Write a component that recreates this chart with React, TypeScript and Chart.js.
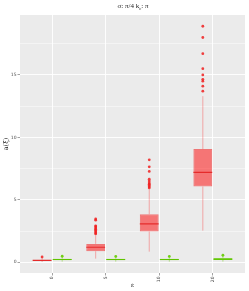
import React, { useEffect, useRef } from "react";
import { Chart, registerables } from "chart.js";
Chart.register(...registerables);

// ε categories
const epsilonLabels = ["0", "5", "10", "20"];
const categoryIndex = [0, 1, 2, 3];

// red series boxplot stats
const redLower = [0.02, 0.29, 0.85, 2.53];
const redQ1 = [0.1, 0.88, 2.46, 6.06];
const redMedian = [0.15, 1.2, 3.07, 7.2];
const redQ3 = [0.2, 1.47, 3.85, 9.06];
const redUpper = [0.33, 2.15, 5.85, 13.3];
const redOutliers = [
  [0.42],
  [2.27, 2.35, 2.45, 2.55, 2.65, 2.75, 2.85, 2.92, 3.37, 3.47],
  [5.95, 6.05, 6.15, 6.25, 6.35, 6.5, 6.65, 7.27, 7.64, 8.2],
  [13.7, 14.1, 14.5, 14.65, 15.0, 15.5, 16.7, 18.0, 18.9],
];

// green series boxplot stats
const greenLower = [0.05, 0.05, 0.05, 0.05];
const greenQ1 = [0.17, 0.17, 0.17, 0.18];
const greenMedian = [0.22, 0.22, 0.22, 0.25];
const greenQ3 = [0.28, 0.28, 0.28, 0.33];
const greenUpper = [0.42, 0.41, 0.41, 0.5];
const greenOutliers = [[0.48], [0.47], [0.47], [0.56]];

const yTicks = [0, 2.5, 5, 7.5, 10, 12.5, 15, 17.5];

const DODGE = 0.1875;
const BAR_PCT = 0.94;

type Style = { fill: string; border: string; median: string; whisker: string; point: string };

function boxDatasets(
  lower: number[], q1: number[], med: number[], q3: number[], upper: number[],
  outliers: number[][], offset: number, s: Style
): any[] {
  const half = DODGE * BAR_PCT;
  const whisk: any[] = [];
  const medLine: any[] = [];
  const pts: any[] = [];
  categoryIndex.forEach((c, i) => {
    const x = c + offset;
    whisk.push({ x, y: lower[i] }, { x, y: q1[i] }, { x, y: null });
    whisk.push({ x, y: q3[i] }, { x, y: upper[i] }, { x, y: null });
    medLine.push({ x: x - half, y: med[i] }, { x: x + half, y: med[i] }, { x, y: null });
    outliers[i].forEach((v) => pts.push({ x, y: v }));
  });
  return [
    {
      type: "line",
      data: whisk,
      borderColor: s.whisker,
      borderWidth: 1,
      pointRadius: 0,
      spanGaps: false,
      order: 4,
    },
    {
      type: "bar",
      data: categoryIndex.map((c, i) => ({ x: c + offset, y: [q1[i], q3[i]] })),
      backgroundColor: s.fill,
      borderColor: s.border,
      borderWidth: 1,
      borderSkipped: false,
      grouped: false,
      barPercentage: BAR_PCT,
      categoryPercentage: 1,
      order: 3,
    },
    {
      type: "line",
      data: medLine,
      borderColor: s.median,
      borderWidth: 1.2,
      pointRadius: 0,
      spanGaps: false,
      order: 2,
    },
    {
      type: "scatter",
      data: pts,
      backgroundColor: s.point,
      borderWidth: 0,
      pointRadius: 1.4,
      order: 1,
    },
  ];
}

const panelBg = {
  id: "panelBg",
  beforeDraw(chart: any) {
    const { ctx, chartArea: a } = chart;
    ctx.save();
    ctx.fillStyle = "#EBEBEB";
    ctx.fillRect(a.left, a.top, a.right - a.left, a.bottom - a.top);
    ctx.restore();
  },
};

export default function App() {
  const ref = useRef<HTMLCanvasElement>(null);
  useEffect(() => {
    document.body.style.margin = "0";
    const red: Style = {
      fill: "rgba(255,0,0,0.5)",
      border: "rgba(240,40,40,0.6)",
      median: "rgba(225,25,25,0.8)",
      whisker: "rgba(255,0,0,0.3)",
      point: "rgba(240,30,30,0.85)",
    };
    const green: Style = {
      fill: "rgba(102,204,0,0.5)",
      border: "rgba(102,204,0,0.9)",
      median: "rgba(95,195,0,1)",
      whisker: "rgba(102,204,0,0.45)",
      point: "rgba(102,204,0,0.9)",
    };
    const datasets = [
      ...boxDatasets(redLower, redQ1, redMedian, redQ3, redUpper, redOutliers, -DODGE, red),
      ...boxDatasets(greenLower, greenQ1, greenMedian, greenQ3, greenUpper, greenOutliers, DODGE, green),
    ];
    const tickFont = { size: 4.5, family: "DejaVu Sans" };
    const chart = new Chart(ref.current!, {
      type: "bar",
      data: { datasets } as any,
      plugins: [panelBg],
      options: {
        animation: false,
        responsive: false,
        maintainAspectRatio: false,
        layout: { padding: { top: 15, right: 3, left: 0, bottom: 0 } },
        plugins: { legend: { display: false }, tooltip: { enabled: false }, title: { display: false } },
        scales: {
          x: {
            type: "linear",
            min: -0.6,
            max: 3.6,
            offset: false,
            afterBuildTicks: (axis: any) => {
              axis.ticks = categoryIndex.map((v) => ({ value: v }));
            },
            afterFit: (axis: any) => {
              axis.height = 18;
            },
            grid: {
              offset: false,
              color: "#FFFFFF",
              lineWidth: 0.9,
              tickLength: 2.5,
              tickColor: "#444",
              tickWidth: 0.5,
            },
            border: { display: false },
            ticks: {
              autoSkip: false,
              minRotation: 90,
              maxRotation: 90,
              padding: 1,
              color: "#4D4D4D",
              font: tickFont,
              callback: (v: any) => epsilonLabels[Math.round(Number(v))] ?? "",
            },
            title: {
              display: true,
              text: "ε",
              color: "#222",
              font: { size: 6, family: "DejaVu Serif" },
              padding: { top: 0, bottom: 2 },
            },
          },
          y: {
            type: "linear",
            min: -0.86,
            max: 19.8,
            afterBuildTicks: (axis: any) => {
              axis.ticks = yTicks.map((v) => ({ value: v }));
            },
            afterFit: (axis: any) => {
              axis.width = 20;
            },
            grid: {
              color: "#FFFFFF",
              lineWidth: (ctx: any) => (ctx.tick && ctx.tick.value % 5 === 0 ? 0.9 : 0.45),
              tickLength: 2.5,
              tickColor: (ctx: any) => (ctx.tick && ctx.tick.value % 5 === 0 ? "#444" : "rgba(0,0,0,0)"),
              tickWidth: 0.5,
            },
            border: { display: false },
            ticks: {
              autoSkip: false,
              padding: 1,
              color: "#4D4D4D",
              font: tickFont,
              callback: (v: any) => (Number(v) % 5 === 0 ? String(v) : ""),
            },
            title: {
              display: true,
              text: "a(ξ)",
              color: "#222",
              font: { size: 6.5, family: "DejaVu Serif" },
              padding: { top: 2, bottom: 0 },
            },
          },
        },
      } as any,
    });
    return () => chart.destroy();
  }, []);
  return (
    <div style={{ position: "relative", width: 249, height: 291 }}>
      <canvas ref={ref} width={249} height={291} style={{ display: "block", width: 249, height: 291 }} />
      <div
        style={{
          position: "absolute",
          left: 20,
          width: 226,
          top: 2,
          textAlign: "center",
          fontFamily: "'Liberation Serif', serif",
          fontSize: 7,
          lineHeight: "9px",
          color: "#222",
        }}
      >
        σ: π/4 k<sub style={{ fontSize: 5, verticalAlign: "-1.5px" }}>ε</sub>: π
      </div>
    </div>
  );
}
